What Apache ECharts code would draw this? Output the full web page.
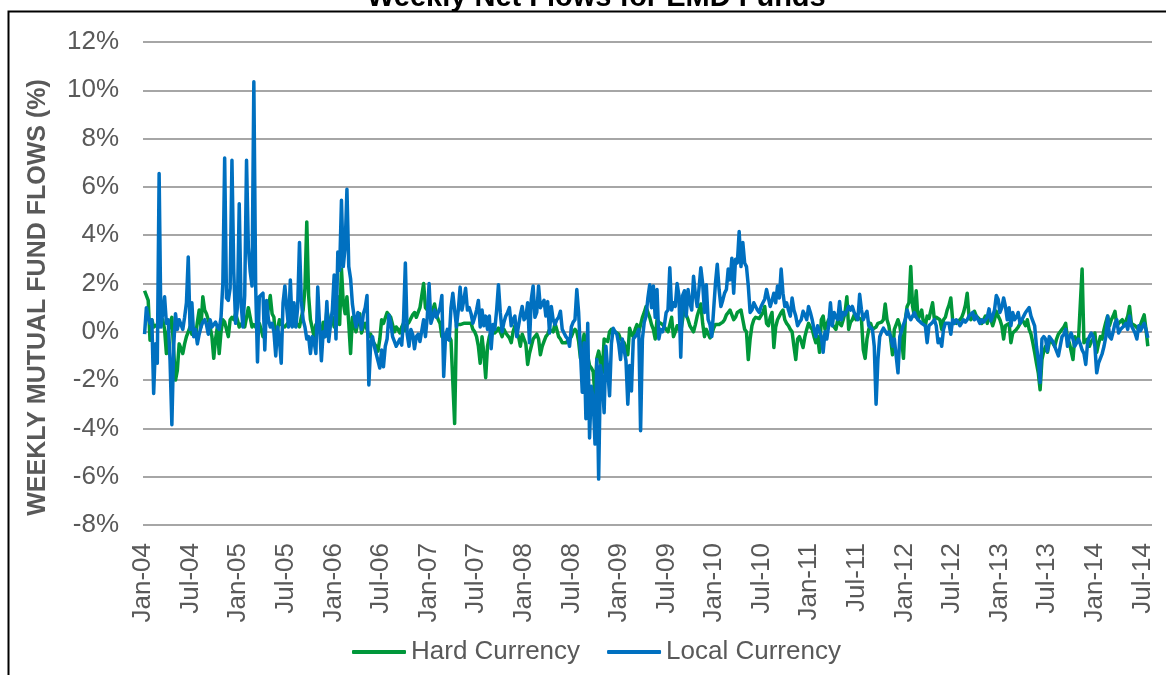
<!DOCTYPE html>
<html>
<head>
<meta charset="utf-8">
<title>Weekly Net Flows for EMD Funds</title>
<script src="https://cdn.jsdelivr.net/npm/echarts@6/dist/echarts.min.js"></script>
<style>
  html, body { margin: 0; padding: 0; background: #fff; }
  #chart { width: 1166px; height: 675px; }
</style>
</head>
<body>
<div id="chart"></div>
<script>
// weekly flows as % of assets (one value per week, Jan-04 .. Jul-14)
const hardCurrency = [
  1.7, 1.7, 1.3, -0.35, 0.5, 0.2, 0.2, 0.3, 0.2, 0.4,
  0.5, 0.1, -0.9, 0.0, 0.35, 0.6, -0.8, -2.0, -1.6, -0.5,
  -0.7, -0.9, -0.5, -0.2, 0.0, 0.2, -0.1, 0.1, -0.2, 0.4,
  0.9, 0.2, 1.45, 0.9, 0.75, 0.5, 0.2, -0.2, -1.1, -0.3,
  0.2, -0.9, 0.0, 0.5, 0.4, 0.35, -0.2, 0.5, 0.6, 0.5,
  0.75, 0.5, 0.2, 0.3, 0.4, 0.2, 0.6, 1.0, 0.6, 0.2,
  0.3, 0.2, 0.1, 0.35, 0.1, -0.2, 0.2, 0.6, 1.0, 1.5,
  0.75, 0.6, -0.35, 0.1, 0.5, 0.3, 0.35, 0.2, 0.3, 0.4,
  0.3, 0.35, 0.25, 0.2, 0.3, 0.2, 0.6, 0.9, 1.8, 4.55,
  1.5, 0.5, 0.5, -0.2, 0.3, 0.2, 0.0, -0.1, 0.4, -0.2,
  0.9, 0.5, 0.35, 0.6, 0.2, 0.8, 1.45, 0.3, 2.6, 1.2,
  0.75, 1.45, 0.35, -0.9, 0.6, 0.2, 0.0, 0.4, 0.75, -0.05,
  0.2, 0.35, 0.1, -0.2, -0.1, -0.35, -0.5, -0.6, -0.8, -0.3,
  0.5, 0.35, 0.4, 0.8, 0.7, 0.6, 0.3, 0.0, 0.2, 0.1,
  -0.05, 0.2, 0.35, 0.05, 0.3, 0.4, 0.55, 0.7, 0.8, 0.6,
  0.8, 1.0, 1.5, 2.0, 1.0, 0.9, 0.8, 0.6, 0.9, 1.15,
  0.7, 0.5, 0.35, -0.2, -0.1, -0.2, -0.3, -0.2, -0.35, -0.4,
  -3.8, 0.3, 0.3, 0.3, 0.35, 0.35, 0.4, 0.35, 0.3, 0.35,
  0.1, 0.0, -0.2, -0.6, -1.3, -0.2, -0.9, -1.9, -0.6, -0.2,
  0.0, 0.1, -0.05, 0.05, 0.15, 0.0, -0.2, 0.1, -0.05, -0.1,
  -0.25, -0.45, 0.0, 0.25, 0.0, -0.2, -0.6, -0.1, -0.3, -0.5,
  -1.35, -0.9, -0.6, -0.3, -0.2, -0.1, -0.3, -0.95, -0.6, -0.4,
  -0.2, -0.1, 0.1, 0.05, 0.0, 0.35, 0.1, -0.2, -0.3, -0.45,
  -0.5, -0.45, -0.4, -0.3, -0.2, 0.0, 0.1, 0.0, -0.4, -1.1,
  -0.5, -0.1, -0.75, -1.0, -1.4, -1.5, -1.65, -2.65, -1.1, -0.8,
  -1.2, -1.7, -0.3, -0.35, -0.4, 0.0, 0.1, 0.05, 0.0, -0.05,
  -0.1, -0.3, -0.35, -0.45, -0.7, -0.95, 0.15, -0.1, -0.2, 0.1,
  0.3, 0.0, 0.3, 0.6, 0.8, 1.05, 0.8, 0.6, 0.3, 0.1,
  -0.3, 0.5, 0.4, 0.35, 0.3, 0.25, 0.1, 0.0, 0.3, 0.6,
  -0.2, 0.0, 0.25, 0.1, 0.0, 0.5, 1.05, 0.7, 0.5, 0.25,
  0.2, 0.0, 0.3, 0.65, 0.9, 1.15, 0.35, -0.2, 0.1, 0.1,
  -0.25, -0.1, 0.15, 0.3, 0.35, 0.3, 0.25, 0.4, 0.5, 0.7,
  0.8, 0.9, 0.7, 0.5, 0.6, 0.8, 0.85, 0.9, 0.5, 0.1,
  0.0, -1.15, -0.3, 0.25, 0.5, 0.6, 0.65, 0.55, 0.5, 0.8,
  1.05, 0.35, 0.25, 0.6, 0.8, -0.65, 0.2, 0.5, 0.65, 0.8,
  0.9, 0.5, 0.35, 0.25, 0.1, 0.0, -0.6, -1.15, -0.3, -0.2,
  -0.4, -0.65, -0.2, 0.1, 0.35, 0.2, 0.1, -0.2, -0.45, -0.2,
  -0.85, 0.5, 0.65, 0.1, 0.3, 0.5, 0.4, 0.35, 0.2, 0.1,
  0.5, 0.35, 0.25, 0.5, 0.8, 1.45, 0.1, 0.4, 0.5, 0.7,
  0.5, 0.6, 0.65, 0.5, -0.75, -1.1, -0.3, 0.1, 0.35, 0.1,
  0.1, 0.2, 0.35, 0.35, 0.4, 0.5, 1.15, 0.5, 0.25, -0.3,
  -0.95, 0.1, 0.3, 0.5, 0.25, -0.3, -1.1, 0.5, 1.05, 1.2,
  2.7, 1.05, 0.65, 1.7, 0.5, 0.7, 0.9, 0.35, 0.25, 0.65,
  0.55, 0.5, 1.2, 0.5, 0.6, 0.65, 0.5, 0.1, 0.5, 0.6,
  0.9, 1.1, 1.4, 0.5, 0.5, 0.35, 0.4, 0.5, 0.6, 0.8,
  1.1, 1.6, 0.65, 0.5, 0.6, 0.85, 0.65, 0.6, 0.5, 0.35,
  0.5, 0.65, 0.35, 0.8, 0.5, 0.25, 0.5, 0.85, 0.65, 0.5,
  0.25, -0.3, 0.25, 0.3, 0.35, -0.45, -0.05, -0.05, 0.1, 0.2,
  0.35, 0.5, 0.4, 0.25, 0.5, 0.1, -0.1, -0.45, -0.85, -1.3,
  -1.7, -2.4, -1.15, -0.8, -0.6, -0.85, -0.45, -0.35, -0.3, -0.6,
  -0.3, -0.1, -0.05, 0.1, 0.2, 0.35, -0.3, -0.45, -0.8, -1.15,
  -0.2, -0.45, -0.35, -0.3, 2.6, -0.45, -0.4, -0.3, -0.6, -0.4,
  -0.3, -0.05, -0.85, -0.5, -0.2, -0.3, 0.1, 0.4, 0.65, 0.25,
  0.5, 0.65, 0.85, 0.25, 0.35, 0.4, 0.5, 0.25, 0.45, 0.65,
  1.05, 0.35, 0.3, 0.25, 0.25, 0.1, 0.3, 0.5, 0.7, 0.1,
  -0.6
];
const localCurrency = [
  -0.1, 1.0, 0.6, 0.35, 0.5, -2.55, -0.5, -1.3, 6.55, 0.2,
  0.8, 1.45, 0.35, 0.5, -1.2, -3.85, -0.6, 0.75, 0.1, 0.5,
  0.3, 0.1, 0.6, 1.2, 3.1, 0.1, 1.2, -0.2, 0.1, -0.5,
  -0.1, 0.2, 0.4, 0.5, 0.3, -0.1, 0.5, 0.2, 0.2, 0.4,
  0.2, 0.1, 0.6, 2.0, 7.2, 1.4, 1.3, 1.8, 7.1, 2.5,
  0.35, 1.0, 5.3, 1.2, 0.2, 1.5, 7.1, 3.5, 2.5, 1.9,
  10.35, 1.9, -1.25, 1.45, 1.45, 1.6, -0.75, 1.3, 0.5, 0.2,
  0.35, 0.0, -1.0, 0.2, -0.3, -1.3, 1.2, 1.9, 1.0, 0.2,
  2.15, 0.2, 1.2, 0.2, 1.0, 3.7, 1.3, 0.5, 0.2, -0.3,
  -0.2, -0.9, -0.2, -0.4, -0.9, 1.85, 0.3, -1.2, 0.0, -0.2,
  1.25, -0.4, 0.3, 0.9, 2.35, -0.3, 3.3, 2.55, 5.45, 2.7,
  3.5, 5.9, 2.7, 2.2, 1.15, 0.6, 0.2, 0.8, 0.5, 0.1,
  0.75, 1.0, 1.5, -2.2, -0.5, -0.2, -0.6, -0.9, -1.2, -1.5,
  -0.75, -1.45, -0.6, -0.3, 0.7, 0.4, -0.2, -0.4, -0.6, -0.6,
  -0.3, -0.55, 0.5, 2.85, -0.1, -0.6, 0.1, -0.1, -0.7, -0.2,
  -0.1, -0.4, -0.35, 0.5, -0.2, 0.6, 2.0, 0.35, 0.6, 0.9,
  0.6, 0.6, 1.0, 1.5, -1.85, -0.2, 0.1, -0.35, 1.0, 1.6,
  0.9, 0.2, 0.9, 1.85, 0.9, 1.3, 1.8, 0.9, 1.0, 0.75,
  0.35, 0.6, 0.9, 1.3, 0.2, 0.9, 0.25, 0.65, 0.1, 0.65,
  -0.7, 0.3, 0.1, 0.9, 1.95, 0.8, 0.0, 0.4, 0.65, 0.8,
  1.0, 0.25, 0.5, 0.65, -0.2, 0.25, 0.7, 1.05, 0.5, 0.6,
  1.2, -0.45, 1.35, 1.9, 0.6, 0.8, 1.9, 1.0, 1.05, 1.3,
  0.65, 1.25, -0.05, 1.05, 0.5, 0.3, 0.5, 0.6, 0.85, 0.1,
  -0.05, -0.2, -0.3, -0.6, 0.2, 0.4, 0.5, 1.75, 0.8, -0.85,
  -2.5, -0.45, -3.6, 0.35, -4.4, -2.25, -2.8, -4.65, -1.15, -6.1,
  -1.4, -2.0, -3.35, -0.6, -0.6, -2.65, -0.5, 0.15, 0.0, -0.1,
  -0.5, -1.15, -0.3, -0.3, -1.2, -3.0, -1.4, -2.45, -0.3, -0.2,
  -0.1, 0.1, -4.1, -0.3, 0.4, 0.65, 1.4, 1.95, 1.0, 1.9,
  0.6, 1.75, -0.3, 0.1, 0.0, 0.25, 0.8, 0.9, 2.65, 0.9,
  1.2, 1.05, 2.0, 1.5, -1.05, 1.5, 1.7, 0.65, 1.75, 1.2,
  0.9, 2.3, 1.55, 1.05, 1.8, 2.65, 2.0, 0.8, 1.95, 0.5,
  0.3, -0.2, 0.9, 2.0, 2.8, 1.75, 1.05, 1.3, 1.6, 1.75,
  2.6, 2.15, 3.05, 1.6, 3.0, 2.85, 4.15, 2.7, 3.7, 2.85,
  2.7, 1.9, 0.8, 0.9, 1.2, 1.05, 0.9, 0.8, 1.05, 1.2,
  1.35, 1.75, 1.75, 1.05, 1.3, 1.6, 1.2, 1.9, 1.4, 2.6,
  1.6, 1.05, 1.2, 0.9, 0.65, 1.4, 0.9, 0.65, 0.25, 0.4,
  0.5, 0.85, 0.7, 0.5, 1.05, 0.8, 0.5, 0.1, -0.2, 0.25,
  0.25, -0.2, -0.85, 0.0, -0.3, 0.25, 1.2, 0.25, 0.8, 0.6,
  0.5, 1.25, 0.5, 0.8, 0.7, 0.65, 1.05, 0.9, 1.05, 0.8,
  0.65, 0.5, 1.55, 0.9, 0.5, 0.7, 0.85, 0.25, 0.25, 0.1,
  -0.6, -3.0, -1.15, -0.2, 0.0, 0.15, 0.1, -0.1, 0.0, -0.2,
  -0.6, -0.3, -0.3, -1.7, -0.2, -0.2, 0.3, 0.5, 0.9, 0.65,
  0.5, 0.45, 0.8, 0.6, 0.5, 0.5, 0.35, 0.3, 0.25, -0.45,
  0.25, 0.25, 0.4, 0.5, 0.25, -0.45, -0.3, -0.6, 0.1, 0.35,
  0.3, 0.35, -0.1, 0.5, 0.35, 0.5, 0.4, 0.25, 0.25, 0.5,
  0.4, 0.5, 0.65, 0.7, 0.8, 0.5, 0.65, 0.5, 0.35, 0.5,
  0.4, 0.5, 0.6, 0.95, 0.45, 0.65, 0.9, 1.5, 1.35, 0.8,
  1.0, 1.4, 1.05, 0.5, 1.0, 0.25, 0.8, 0.5, 0.6, 0.8,
  0.35, 0.5, 0.65, 0.8, 0.9, 1.0, 0.65, 0.65, 0.25, -0.6,
  -1.15, -2.1, -0.3, -0.2, -0.3, -0.8, -0.2, -0.25, -0.4, -0.6,
  -0.8, -1.0, -0.6, -0.2, -0.1, 0.1, -0.6, -0.2, -0.05, -0.3,
  -0.6, -0.45, -0.3, -0.5, -0.75, -0.9, -1.35, -0.45, -0.2, -0.05,
  -0.2, -0.6, -1.7, -1.3, -1.1, -0.9, -0.6, -0.2, 0.65, -0.2,
  -0.3, 0.0, 0.35, 0.5, -0.05, 0.1, 0.1, 0.25, 0.35, 0.1,
  0.65, 0.25, 0.1, -0.05, -0.3, 0.25, 0.05, 0.2, 0.35, 0.1,
  -0.25
];
const seriesNames = ['Hard Currency', 'Local Currency'];
const monthNames = ['Jan', 'Jul'];

// week-ending dates, as decimal years so the value axis can place them
const DAY = 24 * 3600 * 1000;
const firstWeek = Date.UTC(2004, 0, 7);
const weeks = hardCurrency.map((_, i) => {
  const t = firstWeek + i * 7 * DAY;
  const y = new Date(t).getUTCFullYear();
  const y0 = Date.UTC(y, 0, 1), y1 = Date.UTC(y + 1, 0, 1);
  return y + (t - y0) / (y1 - y0);
});

const font = 'Liberation Sans, Arial, sans-serif';
const grey = '#595959';

const chart = echarts.init(document.getElementById('chart'));
chart.setOption({
  animation: false,
  backgroundColor: '#fff',
  textStyle: { fontFamily: font },
  title: {
    text: 'Weekly Net Flows for EMD Funds',
    left: 362,
    top: -22,
    textStyle: { fontSize: 29, fontWeight: 'bold', color: '#000', fontFamily: font }
  },
  graphic: [{
    type: 'rect',
    left: 6,
    top: 9,
    shape: { width: 1200, height: 700 },
    style: { fill: 'none', stroke: '#000', lineWidth: 2 },
    silent: true
  }],
  legend: {
    left: 347,
    top: 634,
    icon: 'roundRect',
    itemWidth: 54,
    itemHeight: 4,
    itemGap: 27,
    data: seriesNames,
    textStyle: { fontSize: 26, color: grey, fontFamily: font }
  },
  grid: { left: 143, right: 14, top: 42, bottom: 150 },
  xAxis: {
    type: 'value',
    min: 2004,
    max: 2014.6,
    interval: 0.5,
    axisLine: { show: false },
    axisTick: { show: false },
    splitLine: { show: false },
    axisLabel: {
      rotate: 90,
      margin: 18,
      fontSize: 26,
      color: grey,
      fontFamily: font,
      showMaxLabel: false,
      formatter: function (v) {
        const y = Math.floor(v + 1e-6);
        const f = Math.round((v - y) * 10);
        if (f !== 0 && f !== 5) return '';
        return monthNames[f === 0 ? 0 : 1] + '-' + String(y).slice(2);
      }
    }
  },
  yAxis: {
    type: 'value',
    min: -8,
    max: 12,
    interval: 2,
    name: 'WEEKLY MUTUAL FUND FLOWS (%)',
    nameLocation: 'middle',
    nameGap: 92,
    nameTextStyle: {
      fontSize: 25, fontWeight: 'bold', color: grey, fontFamily: font,
      padding: [0, 28, 0, 0]
    },
    axisLine: { show: false },
    axisTick: { show: false },
    axisLabel: { formatter: '{value}%', fontSize: 26, color: grey, margin: 24, fontFamily: font },
    splitLine: { lineStyle: { color: '#a6a6a6', width: 2 } }
  },
  series: [
    {
      name: seriesNames[0],
      type: 'line',
      symbol: 'none',
      lineStyle: { color: '#00973A', width: 3.5, join: 'round' },
      itemStyle: { color: '#00973A' },
      data: weeks.map((t, i) => [t, hardCurrency[i]])
    },
    {
      name: seriesNames[1],
      type: 'line',
      symbol: 'none',
      lineStyle: { color: '#0070C0', width: 3.5, join: 'round' },
      itemStyle: { color: '#0070C0' },
      data: weeks.map((t, i) => [t, localCurrency[i]])
    }
  ]
});
</script>
</body>
</html>
